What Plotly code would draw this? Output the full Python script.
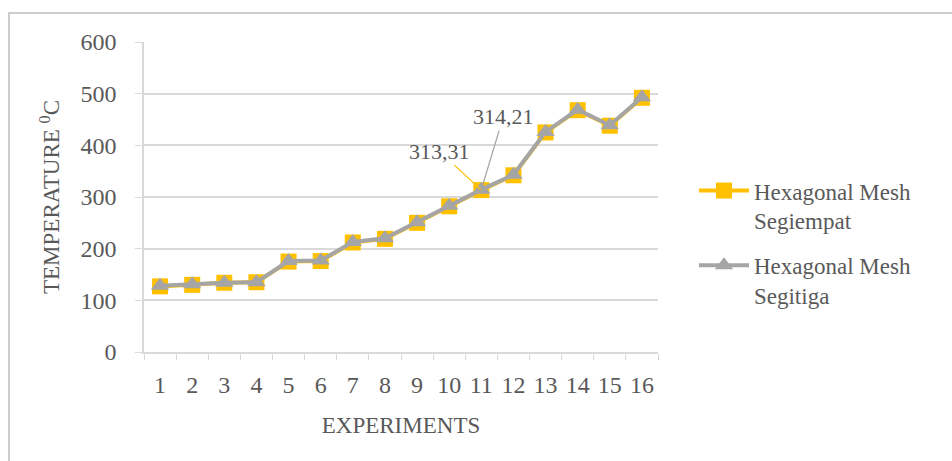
import plotly.graph_objects as go

experiments = [str(i) for i in range(1, 17)]
segiempat = [127, 130, 134, 135, 175, 176, 212, 219, 250, 282, 313.31, 342, 425, 468, 438, 492]
segitiga = [128, 131, 134, 135, 176, 177, 213, 220, 251, 283, 314.21, 343, 426, 469, 439, 493]
y_ticks = [0, 100, 200, 300, 400, 500, 600]

font_family = "Liberation Serif, Times New Roman, serif"
txt = "#595959"
grid = "#D9D9D9"

fig = go.Figure()
fig.add_trace(go.Scatter(
    x=experiments, y=segiempat, mode="lines+markers",
    name="Hexagonal Mesh<br>Segiempat", legendgroup="a",
    line=dict(color="#FFC000", width=4),
    marker=dict(symbol="square", size=16, color="#FFC000"),
))
fig.add_trace(go.Scatter(
    x=experiments, y=segitiga, mode="lines+markers",
    name="Hexagonal Mesh<br>Segitiga", legendgroup="b",
    line=dict(color="#A5A5A5", width=4),
    marker=dict(symbol="triangle-up", size=16, color="#A5A5A5"),
))

fig.add_annotation(x=10, y=segiempat[10], text="313,31", showarrow=True,
                   arrowhead=0, arrowcolor="#FFC000", arrowwidth=1.3,
                   ax=-42, ay=-39, font=dict(family=font_family, size=22, color=txt))
fig.add_annotation(x=10, y=segitiga[10], text="314,21", showarrow=True,
                   arrowhead=0, arrowcolor="#A5A5A5", arrowwidth=1.3,
                   ax=22, ay=-73, font=dict(family=font_family, size=22, color=txt))

# outer chart border
fig.add_shape(type="rect", xref="paper", yref="paper",
              x0=(9 - 144) / 514, x1=(1000 - 144) / 514,
              y0=(352 - 500) / 310, y1=(352 - 13) / 310,
              line=dict(color="#BFBFBF", width=1.5), fillcolor="rgba(0,0,0,0)", layer="below")

fig.update_layout(
    width=952, height=461,
    margin=dict(l=144, r=294, t=42, b=109),
    paper_bgcolor="white", plot_bgcolor="white",
    font=dict(family=font_family, size=23, color=txt),
    showlegend=True,
    legend=dict(x=1.07, y=0.59, xanchor="left", yanchor="top", valign="top",
                font=dict(family=font_family, size=23, color=txt),
                tracegroupgap=12, itemwidth=50, bgcolor="rgba(0,0,0,0)"),
    xaxis=dict(
        type="category", range=[-0.5, 15.5], tickson="boundaries", ticks="outside", ticklen=6,
        tickcolor=grid, showline=True, linecolor=grid, linewidth=1.5,
        showgrid=False, tickfont=dict(size=24, color=txt), ticklabelstandoff=10,
        tickangle=0,
        title=dict(text="EXPERIMENTS", font=dict(size=23, color=txt), standoff=20),
    ),
    yaxis=dict(
        range=[0, 600], tickvals=y_ticks, ticks="outside", ticklen=7,
        tickcolor=grid, showline=True, linecolor=grid, linewidth=1.5,
        showgrid=True, gridcolor=grid, gridwidth=1.5, zeroline=False,
        tickfont=dict(size=24, color=txt), ticklabelstandoff=14,
        title=dict(text="TEMPERATURE <sup>0</sup>C", font=dict(size=23, color=txt), standoff=14),
    ),
)

fig.write_html("out.html", config={"displayModeBar": False},
               post_script="document.body.style.margin='0';")
